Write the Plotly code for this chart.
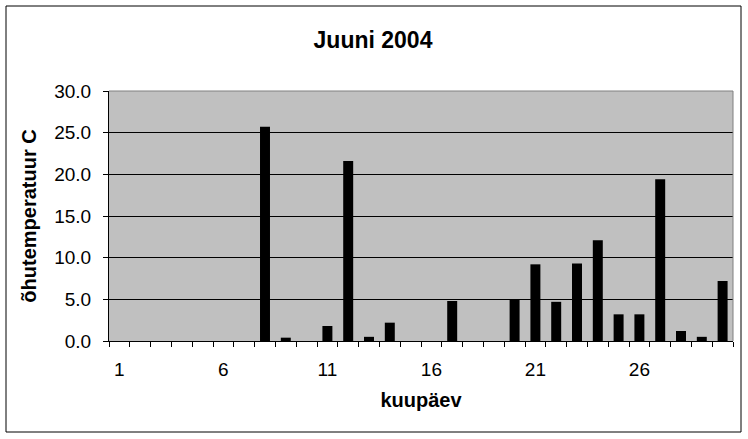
import plotly.graph_objects as go

days = list(range(1, 31))
temps = [0, 0, 0, 0, 0, 0, 0, 25.7, 0.4, 0,
         1.8, 21.6, 0.5, 2.2, 0, 0, 4.8, 0, 0, 5.0,
         9.2, 4.7, 9.3, 12.1, 3.2, 3.2, 19.4, 1.2, 0.5, 7.2]
x_tick_vals = [1, 6, 11, 16, 21, 26]
y_tick_vals = [0, 5, 10, 15, 20, 25, 30]

FONT = "Liberation Sans, Arial, sans-serif"

fig = go.Figure(go.Bar(x=days, y=temps, marker=dict(color="black", line=dict(width=0)),
                       width=0.48))

fig.update_layout(
    width=748, height=439,
    margin=dict(l=109, r=15, t=91, b=98),
    paper_bgcolor="white", plot_bgcolor="#C0C0C0",
    font=dict(family=FONT, size=19, color="black"),
    showlegend=False,
    title=dict(text="<b>Juuni 2004</b>", x=373/748, xanchor="center",
               y=1 - 40/439, yanchor="middle", font=dict(size=23)),
    xaxis=dict(range=[0.5, 30.5], tickmode="array", tickvals=x_tick_vals,
               ticktext=[str(v) for v in x_tick_vals],
               ticks="", showgrid=False, zeroline=False,
               showline=True, linecolor="black", linewidth=1,
               ticklabelstandoff=11,
               minor=dict(ticks="outside", tick0=0.5, dtick=1, ticklen=5,
                          tickcolor="black", showgrid=False),
               title=dict(text="<b>kuupäev</b>", standoff=14, font=dict(size=20))),
    yaxis=dict(range=[0, 30], tickmode="array", tickvals=y_tick_vals,
               tickformat=".1f", ticks="outside", ticklen=5, tickcolor="black",
               ticklabelstandoff=8,
               showgrid=True, gridcolor="black", gridwidth=1, zeroline=False,
               showline=True, linecolor="black", linewidth=1,
               title=dict(text="<b>õhutemperatuur C</b>", standoff=12, font=dict(size=20))),
    shapes=[
        dict(type="line", xref="paper", yref="paper", x0=0, x1=1, y0=1, y1=1,
             line=dict(color="#808080", width=1)),
        dict(type="line", xref="paper", yref="paper", x0=1, x1=1, y0=0, y1=1,
             line=dict(color="#808080", width=1)),
        dict(type="rect", xref="paper", yref="paper",
             x0=(6 - 109) / 624, x1=(741 - 109) / 624,
             y0=(341 - 432) / 250, y1=(341 - 6) / 250,
             line=dict(color="black", width=1), fillcolor="rgba(0,0,0,0)"),
    ],
)

fig.write_html("out.html", config={"displayModeBar": False},
               post_script="document.body.style.margin='0';document.body.style.padding='0';")
